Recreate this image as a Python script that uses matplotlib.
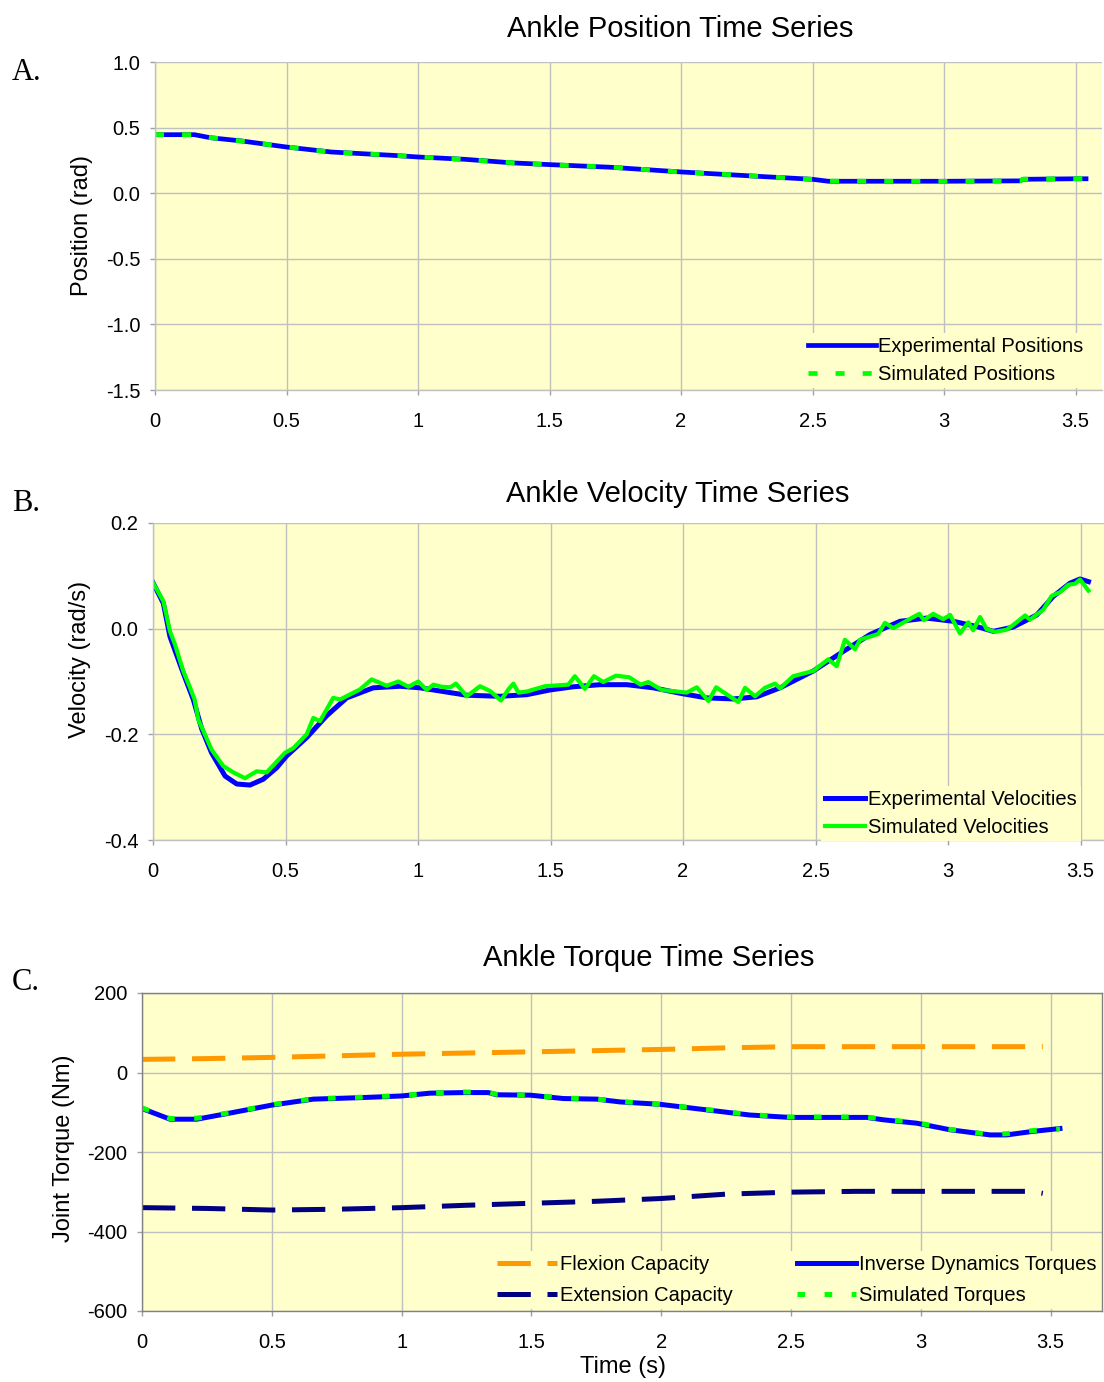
import matplotlib
matplotlib.use("Agg")
import matplotlib.pyplot as plt
from matplotlib.ticker import MultipleLocator, FuncFormatter

plt.rcParams["font.family"] = ["Liberation Sans", "DejaVu Sans"]
plt.rcParams["axes.unicode_minus"] = False
plt.rcParams["lines.scale_dashes"] = False

# --- Data ---------------------------------------------------------------------
# A. ankle position (rad)
t_pos = [0, 0.15, 0.21, 0.33, 0.5, 0.67, 0.9, 1.0, 1.18, 1.36, 1.5, 1.73, 2.0,
         2.29, 2.5, 2.56, 3.0, 3.29, 3.30, 3.5, 3.54]
pos_exp = [0.446, 0.446, 0.423, 0.398, 0.352, 0.314, 0.289, 0.276, 0.258, 0.231,
           0.218, 0.198, 0.162, 0.129, 0.106, 0.091, 0.091, 0.094, 0.106, 0.110, 0.110]
pos_sim = [0.447, 0.446, 0.424, 0.397, 0.353, 0.313, 0.290, 0.277, 0.257, 0.232,
           0.217, 0.199, 0.161, 0.130, 0.105, 0.092, 0.090, 0.094, 0.107, 0.111, 0.112]

# B. ankle velocity (rad/s)
t_vel_exp = [0, 0.039, 0.064, 0.114, 0.152, 0.184, 0.221, 0.272, 0.316, 0.366,
             0.416, 0.467, 0.504, 0.58, 0.655, 0.731, 0.831, 0.932, 1.008, 1.083,
             1.184, 1.309, 1.41, 1.498, 1.586, 1.687, 1.788, 1.888, 1.997, 2.089,
             2.19, 2.278, 2.366, 2.492, 2.605, 2.706, 2.819, 2.919, 3.02, 3.108,
             3.171, 3.246, 3.335, 3.397, 3.46, 3.498, 3.53]
vel_exp = [0.087, 0.048, -0.015, -0.084, -0.134, -0.19, -0.235, -0.279, -0.294, -0.296,
           -0.285, -0.263, -0.241, -0.206, -0.165, -0.131, -0.112, -0.109, -0.112, -0.118,
           -0.126, -0.128, -0.125, -0.116, -0.110, -0.106, -0.106, -0.112, -0.123, -0.131,
           -0.133, -0.129, -0.112, -0.080, -0.043, -0.011, 0.014, 0.020, 0.014, 0.004,
           -0.005, 0.003, 0.026, 0.061, 0.086, 0.094, 0.089]

t_vel_sim = [0, 0.039, 0.064, 0.083, 0.114, 0.14, 0.157, 0.171, 0.221, 0.265,
             0.303, 0.347, 0.391, 0.429, 0.498, 0.53, 0.58, 0.605, 0.63, 0.68,
             0.706, 0.781, 0.825, 0.882, 0.926, 0.964, 1.001, 1.033, 1.058, 1.09,
             1.122, 1.143, 1.184, 1.234, 1.272, 1.313, 1.341, 1.36, 1.379, 1.41,
             1.479, 1.567, 1.592, 1.63, 1.664, 1.699, 1.747, 1.797, 1.84, 1.869,
             1.92, 2.014, 2.052, 2.096, 2.125, 2.209, 2.234, 2.272, 2.309, 2.347,
             2.366, 2.416, 2.492, 2.548, 2.58, 2.611, 2.649, 2.668, 2.737, 2.762,
             2.794, 2.869, 2.892, 2.909, 2.944, 2.982, 3.008, 3.045, 3.077, 3.095,
             3.121, 3.146, 3.177, 3.221, 3.246, 3.291, 3.309, 3.36, 3.391, 3.423,
             3.454, 3.479, 3.498, 3.53]
vel_sim = [0.087, 0.052, -0.005, -0.030, -0.080, -0.112, -0.134, -0.172, -0.229, -0.260,
           -0.272, -0.283, -0.270, -0.272, -0.235, -0.226, -0.200, -0.169, -0.175, -0.131,
           -0.134, -0.115, -0.096, -0.108, -0.100, -0.110, -0.100, -0.116, -0.106, -0.110,
           -0.111, -0.104, -0.128, -0.109, -0.118, -0.136, -0.115, -0.104, -0.121, -0.119,
           -0.109, -0.106, -0.090, -0.114, -0.090, -0.101, -0.089, -0.092, -0.106, -0.101,
           -0.116, -0.121, -0.111, -0.137, -0.111, -0.139, -0.112, -0.128, -0.112, -0.104,
           -0.113, -0.090, -0.080, -0.058, -0.071, -0.021, -0.039, -0.021, -0.010, 0.011,
           0.001, 0.022, 0.028, 0.016, 0.028, 0.018, 0.026, -0.009, 0.012, -0.003,
           0.022, -0.001, -0.006, -0.002, 0.007, 0.025, 0.017, 0.036, 0.062, 0.069,
           0.083, 0.085, 0.093, 0.072]

# C. ankle torque (Nm)
t_cap = [0, 0.25, 0.5, 0.75, 1.0, 1.25, 1.5, 1.75, 2.0, 2.25, 2.5, 2.75, 3.0, 3.25, 3.43, 3.47]
flexion_cap = [33, 35, 38, 42, 46, 49, 52, 55, 58, 62, 65, 65, 65, 65, 65, 65]
extension_cap = [-340, -342, -346, -344, -340, -334, -329, -324, -317, -306, -301,
                 -299, -299, -299, -299, -304]

t_torque = [0, 0.108, 0.211, 0.339, 0.5, 0.66, 0.853, 1.0, 1.109, 1.238, 1.334, 1.366,
            1.495, 1.623, 1.752, 1.841, 1.995, 2.149, 2.342, 2.496, 2.792, 2.856,
            2.984, 3.112, 3.267, 3.331, 3.433, 3.536]
torque_id = [-90.6, -117.5, -117.5, -102, -82, -67, -63, -59, -52, -50.5, -50.5, -56,
             -57, -65.5, -67, -74, -80, -92, -107, -113, -113, -119, -127.5, -144,
             -157, -157, -148, -141]
torque_sim = [-89, -116, -115, -101, -81, -66, -62, -58, -52, -49, -50, -55,
              -57, -64, -67, -73, -80, -91, -106, -112, -112, -118, -126, -143,
              -156, -154, -146, -142]

# --- Style --------------------------------------------------------------------
BG = "#FFFFCC"
GRID = "#C0C0C0"
BLUE = "#0000FF"
GREEN = "#00FF00"
ORANGE = "#FF9900"
NAVY = "#000080"
W, H = 1104, 1382


def px_rect(left, top, right, bottom):
    return [left / W, 1 - bottom / H, (right - left) / W, (bottom - top) / H]


def style_axes(ax, frame=False):
    ax.set_facecolor(BG)
    ax.grid(True, color=GRID, linewidth=1)
    ax.set_axisbelow(True)
    ax.tick_params(direction="out", length=3.6, width=1, color="#A0A0A0",
                   labelsize=14.5, pad=7)
    ax.tick_params(axis="x", pad=12)
    for side in ("top", "right"):
        ax.spines[side].set_visible(frame)
    for s in ax.spines.values():
        s.set_color("#808080" if frame else GRID)
        s.set_linewidth(1)
    ax.xaxis.set_major_locator(MultipleLocator(0.5))
    ax.xaxis.set_major_formatter(FuncFormatter(lambda v, p: f"{v:g}"))


def yellow_legend(ax, **kw):
    leg = ax.legend(loc="upper left", fontsize=14.5, borderpad=0.2,
                    borderaxespad=0, frameon=True, fancybox=False, **kw)
    leg.get_frame().set_facecolor(BG)
    leg.get_frame().set_edgecolor("none")
    leg.get_frame().set_alpha(1)
    return leg


fig = plt.figure(figsize=(W / 100, H / 100), dpi=100)

# Panel A
ax_a = fig.add_axes(px_rect(155, 62, 1102, 390))
style_axes(ax_a)
ax_a.plot(t_pos, pos_exp, color=BLUE, lw=3.4, label="Experimental Positions")
ax_a.plot(t_pos, pos_sim, color=GREEN, lw=3.4, dashes=(6.5, 13),
          label="Simulated Positions")
ax_a.set_xlim(0, 947 / 263)
ax_a.set_ylim(-1.5, 1.0)
ax_a.yaxis.set_major_locator(MultipleLocator(0.5))
ax_a.yaxis.set_major_formatter(FuncFormatter(lambda v, p: f"{v:.1f}"))
yellow_legend(ax_a, bbox_to_anchor=(0.685, 0.173), handlelength=3.4,
              handletextpad=0.1, labelspacing=0.42)

# Panel B
ax_b = fig.add_axes(px_rect(153, 523, 1104, 840))
style_axes(ax_b)
ax_b.plot(t_vel_exp, vel_exp, color=BLUE, lw=3.6, label="Experimental Velocities")
ax_b.plot(t_vel_sim, vel_sim, color=GREEN, lw=3.0, label="Simulated Velocities")
ax_b.set_xlim(0, 951 / 265)
ax_b.set_ylim(-0.4, 0.2)
ax_b.yaxis.set_major_locator(MultipleLocator(0.2))
ax_b.yaxis.set_major_formatter(FuncFormatter(lambda v, p: f"{v:.1f}"))
yellow_legend(ax_b, bbox_to_anchor=(0.702, 0.17), handlelength=2.0,
              handletextpad=0.15, labelspacing=0.42)

# Panel C
ax_c = fig.add_axes(px_rect(142, 993, 1102, 1311))
style_axes(ax_c, frame=True)
ax_c.plot(t_cap, flexion_cap, color=ORANGE, lw=3.6, dashes=(24, 12),
          label="Flexion Capacity")
ax_c.plot(t_cap, extension_cap, color=NAVY, lw=3.6, dashes=(24, 12),
          label="Extension Capacity")
ax_c.plot(t_torque, torque_id, color=BLUE, lw=3.6, label="Inverse Dynamics Torques")
ax_c.plot(t_torque, torque_sim, color=GREEN, lw=3.6, dashes=(5.5, 14),
          label="Simulated Torques")
ax_c.set_xlim(0, 960 / 259.6)
ax_c.set_ylim(-600, 200)
ax_c.yaxis.set_major_locator(MultipleLocator(200))
ax_c.yaxis.set_major_formatter(FuncFormatter(lambda v, p: f"{v:g}"))
yellow_legend(ax_c, bbox_to_anchor=(0.366, 0.188), ncol=2, handlelength=2.95,
              handletextpad=0.15, labelspacing=0.6, columnspacing=3.2)

# Titles, axis labels and panel letters
fig.text(680 / W, 1 - 29 / H, "Ankle Position Time Series", ha="center", va="center", fontsize=21)
fig.text(678 / W, 1 - 494 / H, "Ankle Velocity Time Series", ha="center", va="center", fontsize=21)
fig.text(649 / W, 1 - 958 / H, "Ankle Torque Time Series", ha="center", va="center", fontsize=21)

fig.text(82 / W, 1 - 225 / H, "Position (rad)", rotation=90, ha="center", va="center", fontsize=17)
fig.text(80 / W, 1 - 659 / H, "Velocity (rad/s)", rotation=90, ha="center", va="center", fontsize=17)
fig.text(64 / W, 1 - 1148 / H, "Joint Torque (Nm)", rotation=90, ha="center", va="center", fontsize=17)
fig.text(623 / W, 1 - 1367 / H, "Time (s)", ha="center", va="center", fontsize=17)

for letter, y in (("A.", 72), ("B.", 503), ("C.", 983)):
    fig.text(12 / W, 1 - y / H, letter, ha="left", va="center", fontsize=22,
             family=["Liberation Serif", "DejaVu Serif"])

fig.savefig("out.png", dpi=100, facecolor="white")
